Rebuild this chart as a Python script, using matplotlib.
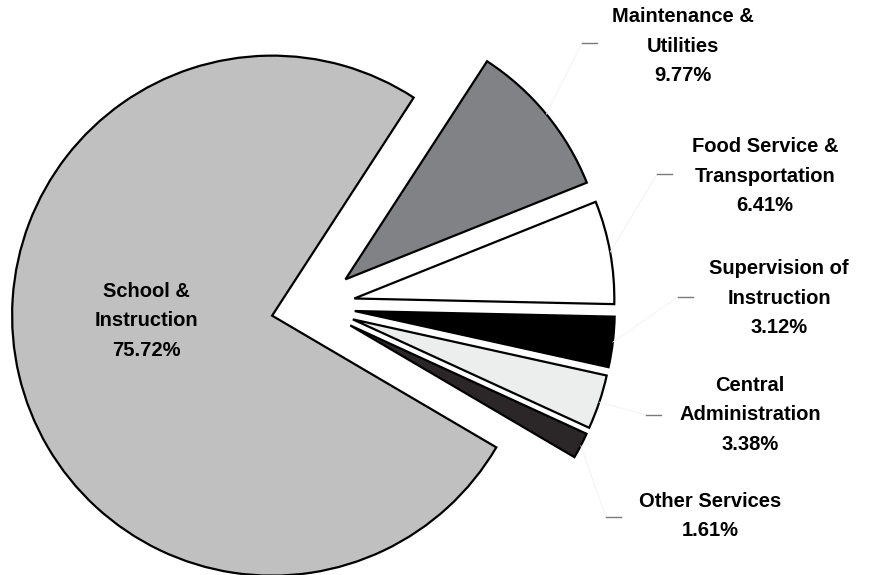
import matplotlib
matplotlib.use("Agg")
import matplotlib.pyplot as plt
import numpy as np

# budget shares, listed clockwise starting at the top slice
labels = ["Maintenance &\nUtilities", "Food Service &\nTransportation",
          "Supervision of\nInstruction", "Central\nAdministration",
          "Other Services", "School &\nInstruction"]
shares = [9.77, 6.41, 3.12, 3.38, 1.61, 75.72]
colors = ["#818286", "#ffffff", "#000000", "#eceeee", "#2b2728", "#c0c0c0"]

# layout (pixel coords, y measured from the top of the image)
W, H = 873, 575
pie_center = (313, 306)
pie_r = 260
gap = 42
text_pos = [(683, 46), (765, 176), (779, 298), (750, 415), (710, 516), (146, 321)]
dash_pos = [(582, 43), (657, 174), (678, 297), (646, 415), (606, 517), None]

plt.rcParams['font.family'] = ['Liberation Sans', 'DejaVu Sans']

fig = plt.figure(figsize=(W / 100, H / 100), dpi=100)
ax = fig.add_axes([0, 0, 1, 1])

wedges, _ = ax.pie(shares, colors=colors, startangle=57, counterclock=False,
                   radius=pie_r, center=(pie_center[0], H - pie_center[1]),
                   explode=[gap] * len(shares),
                   wedgeprops=dict(edgecolor="black", linewidth=1.6))

ax.set_xlim(0, W)
ax.set_ylim(0, H)
ax.set_aspect("equal")
ax.axis("off")

for i, w in enumerate(wedges):
    tx, ty = text_pos[i]
    txt = labels[i] + "\n" + "%.2f%%" % shares[i]
    ax.text(tx, H - ty, txt, ha="center", va="center", multialignment="center",
            fontsize=14.5, fontweight="bold", linespacing=1.68, color="black")
    if dash_pos[i] is None:
        continue
    # faint leader from the middle of the arc to the dash
    th = np.deg2rad((w.theta1 + w.theta2) / 2)
    ex = w.center[0] + w.r * np.cos(th)
    ey = w.center[1] + w.r * np.sin(th)
    dx, dy = dash_pos[i]
    ax.plot([ex, dx], [ey, H - dy], color="#f0f0f0", lw=0.6)
    ax.plot([dx, dx + 15], [H - dy, H - dy], color="#7a7a7a", lw=1.0)

fig.savefig("out.png", dpi=100)
